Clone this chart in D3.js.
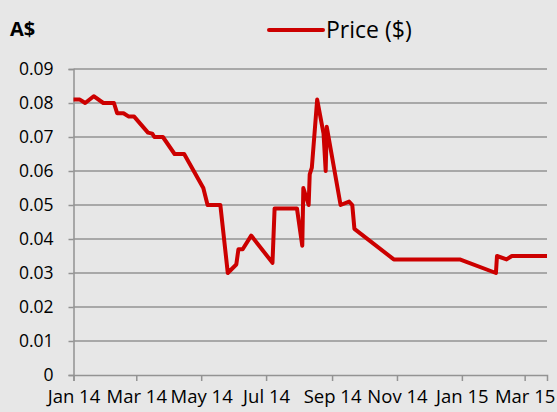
<!DOCTYPE html>
<html>
<head>
<meta charset="utf-8">
<script src="https://cdn.jsdelivr.net/npm/d3@7"></script>
<style>
  html, body { margin: 0; padding: 0; background: #e7e7e7; }
  svg { display: block; }
</style>
</head>
<body>
<div id="plot"></div>
<script>
// price series
var dates = [
  "2014-01-01", "2014-01-07", "2014-01-12", "2014-01-20", "2014-01-29",
  "2014-02-08", "2014-02-11", "2014-02-17", "2014-02-22", "2014-02-27",
  "2014-03-12", "2014-03-16", "2014-03-18", "2014-03-26", "2014-04-06",
  "2014-04-15", "2014-05-03", "2014-05-07", "2014-05-19", "2014-05-26",
  "2014-06-03", "2014-06-05", "2014-06-09", "2014-06-17", "2014-07-07",
  "2014-07-09", "2014-07-30", "2014-08-04", "2014-08-05", "2014-08-10",
  "2014-08-11", "2014-08-13", "2014-08-18", "2014-08-24", "2014-08-26",
  "2014-08-27", "2014-09-09", "2014-09-17", "2014-09-20", "2014-09-22",
  "2014-10-29", "2014-12-30", "2015-02-02", "2015-02-03", "2015-02-12",
  "2015-02-17", "2015-03-22"
];
var prices = [
  0.081, 0.081, 0.080, 0.082, 0.080,
  0.080, 0.077, 0.077, 0.076, 0.076,
  0.0713, 0.071, 0.070, 0.070, 0.065,
  0.065, 0.055, 0.050, 0.050, 0.030,
  0.0325, 0.037, 0.037, 0.041, 0.033,
  0.049, 0.049, 0.038, 0.055, 0.050,
  0.059, 0.061, 0.081, 0.071, 0.060,
  0.073, 0.050, 0.051, 0.050, 0.043,
  0.034, 0.034, 0.030, 0.035, 0.034,
  0.035, 0.035
];
var yTicks = [0, 0.01, 0.02, 0.03, 0.04, 0.05, 0.06, 0.07, 0.08, 0.09];
var xTicks = ["2014-01-01", "2014-03-01", "2014-05-01", "2014-07-01", "2014-09-01",
  "2014-11-01", "2015-01-01", "2015-03-01"];
var xStart = "2014-01-01", xEnd = "2015-03-22";
var seriesName = "Price ($)";
var unitLabel = "A$";

var width = 557, height = 412;
var margin = { top: 69, right: 10, bottom: 37, left: 73.5 };
var red = "#cc0000", grid = "#939393";
var font = "'Open Sans', sans-serif";

var parse = d3.utcParse("%Y-%m-%d");
var data = dates.map(function (d, i) { return { date: parse(d), value: prices[i] }; });

var svg = d3.select("#plot")
  .append("svg")
  .attr("width", width)
  .attr("height", height)
  .style("background", "#e7e7e7");

var x = d3.scaleUtc()
  .domain([parse(xStart), parse(xEnd)])
  .range([margin.left, width - margin.right]);
var y = d3.scaleLinear()
  .domain([0, 0.09])
  .range([height - margin.bottom, margin.top]);

// gridlines
svg.append("g")
  .selectAll("line")
  .data(yTicks.slice(1))
  .enter()
  .append("line")
  .attr("x1", x.range()[0])
  .attr("x2", x.range()[1])
  .attr("y1", function (d) { return y(d); })
  .attr("y2", function (d) { return y(d); })
  .attr("stroke", grid)
  .attr("stroke-width", 1.5);

// Y axis
var yAxis = svg.append("g")
  .attr("transform", "translate(" + margin.left + ",0)")
  .call(d3.axisLeft(y).tickValues(yTicks).tickSize(5).tickPadding(15)
    .tickFormat(function (d) { return d === 0 ? "0" : d3.format(".2f")(d); }));

// X axis
var xAxis = svg.append("g")
  .attr("transform", "translate(0," + y(0) + ")")
  .call(d3.axisBottom(x).tickValues(xTicks.map(parse)).tickSize(6).tickPadding(9)
    .tickFormat(d3.utcFormat("%b %y")));

[yAxis, xAxis].forEach(function (a) {
  a.select(".domain").attr("stroke", grid).attr("stroke-width", 1.5);
  a.selectAll(".tick line").attr("stroke", grid).attr("stroke-width", 1.5);
  a.selectAll("text")
    .attr("fill", "#000")
    .style("font-family", font)
    .style("font-size", "17.5px");
});
xAxis.selectAll("text").style("font-size", "18.5px");

// price line
var line = d3.line()
  .x(function (d) { return x(d.date); })
  .y(function (d) { return y(d.value); });
svg.append("path")
  .datum(data)
  .attr("d", line)
  .attr("fill", "none")
  .attr("stroke", red)
  .attr("stroke-width", 4)
  .attr("stroke-linejoin", "round");

// unit label
svg.append("text")
  .attr("x", 10)
  .attr("y", 36)
  .attr("fill", "#000")
  .style("font-family", font)
  .style("font-weight", "bold")
  .style("font-size", "20px")
  .text(unitLabel);

// legend
var legend = svg.append("g");
legend.append("line")
  .attr("x1", 269).attr("x2", 323)
  .attr("y1", 30).attr("y2", 30)
  .attr("stroke", red)
  .attr("stroke-width", 4)
  .attr("stroke-linecap", "round");
legend.append("text")
  .attr("x", 326)
  .attr("y", 38)
  .attr("fill", "#000")
  .style("font-family", font)
  .style("font-size", "23px")
  .text(seriesName);
</script>
</body>
</html>
